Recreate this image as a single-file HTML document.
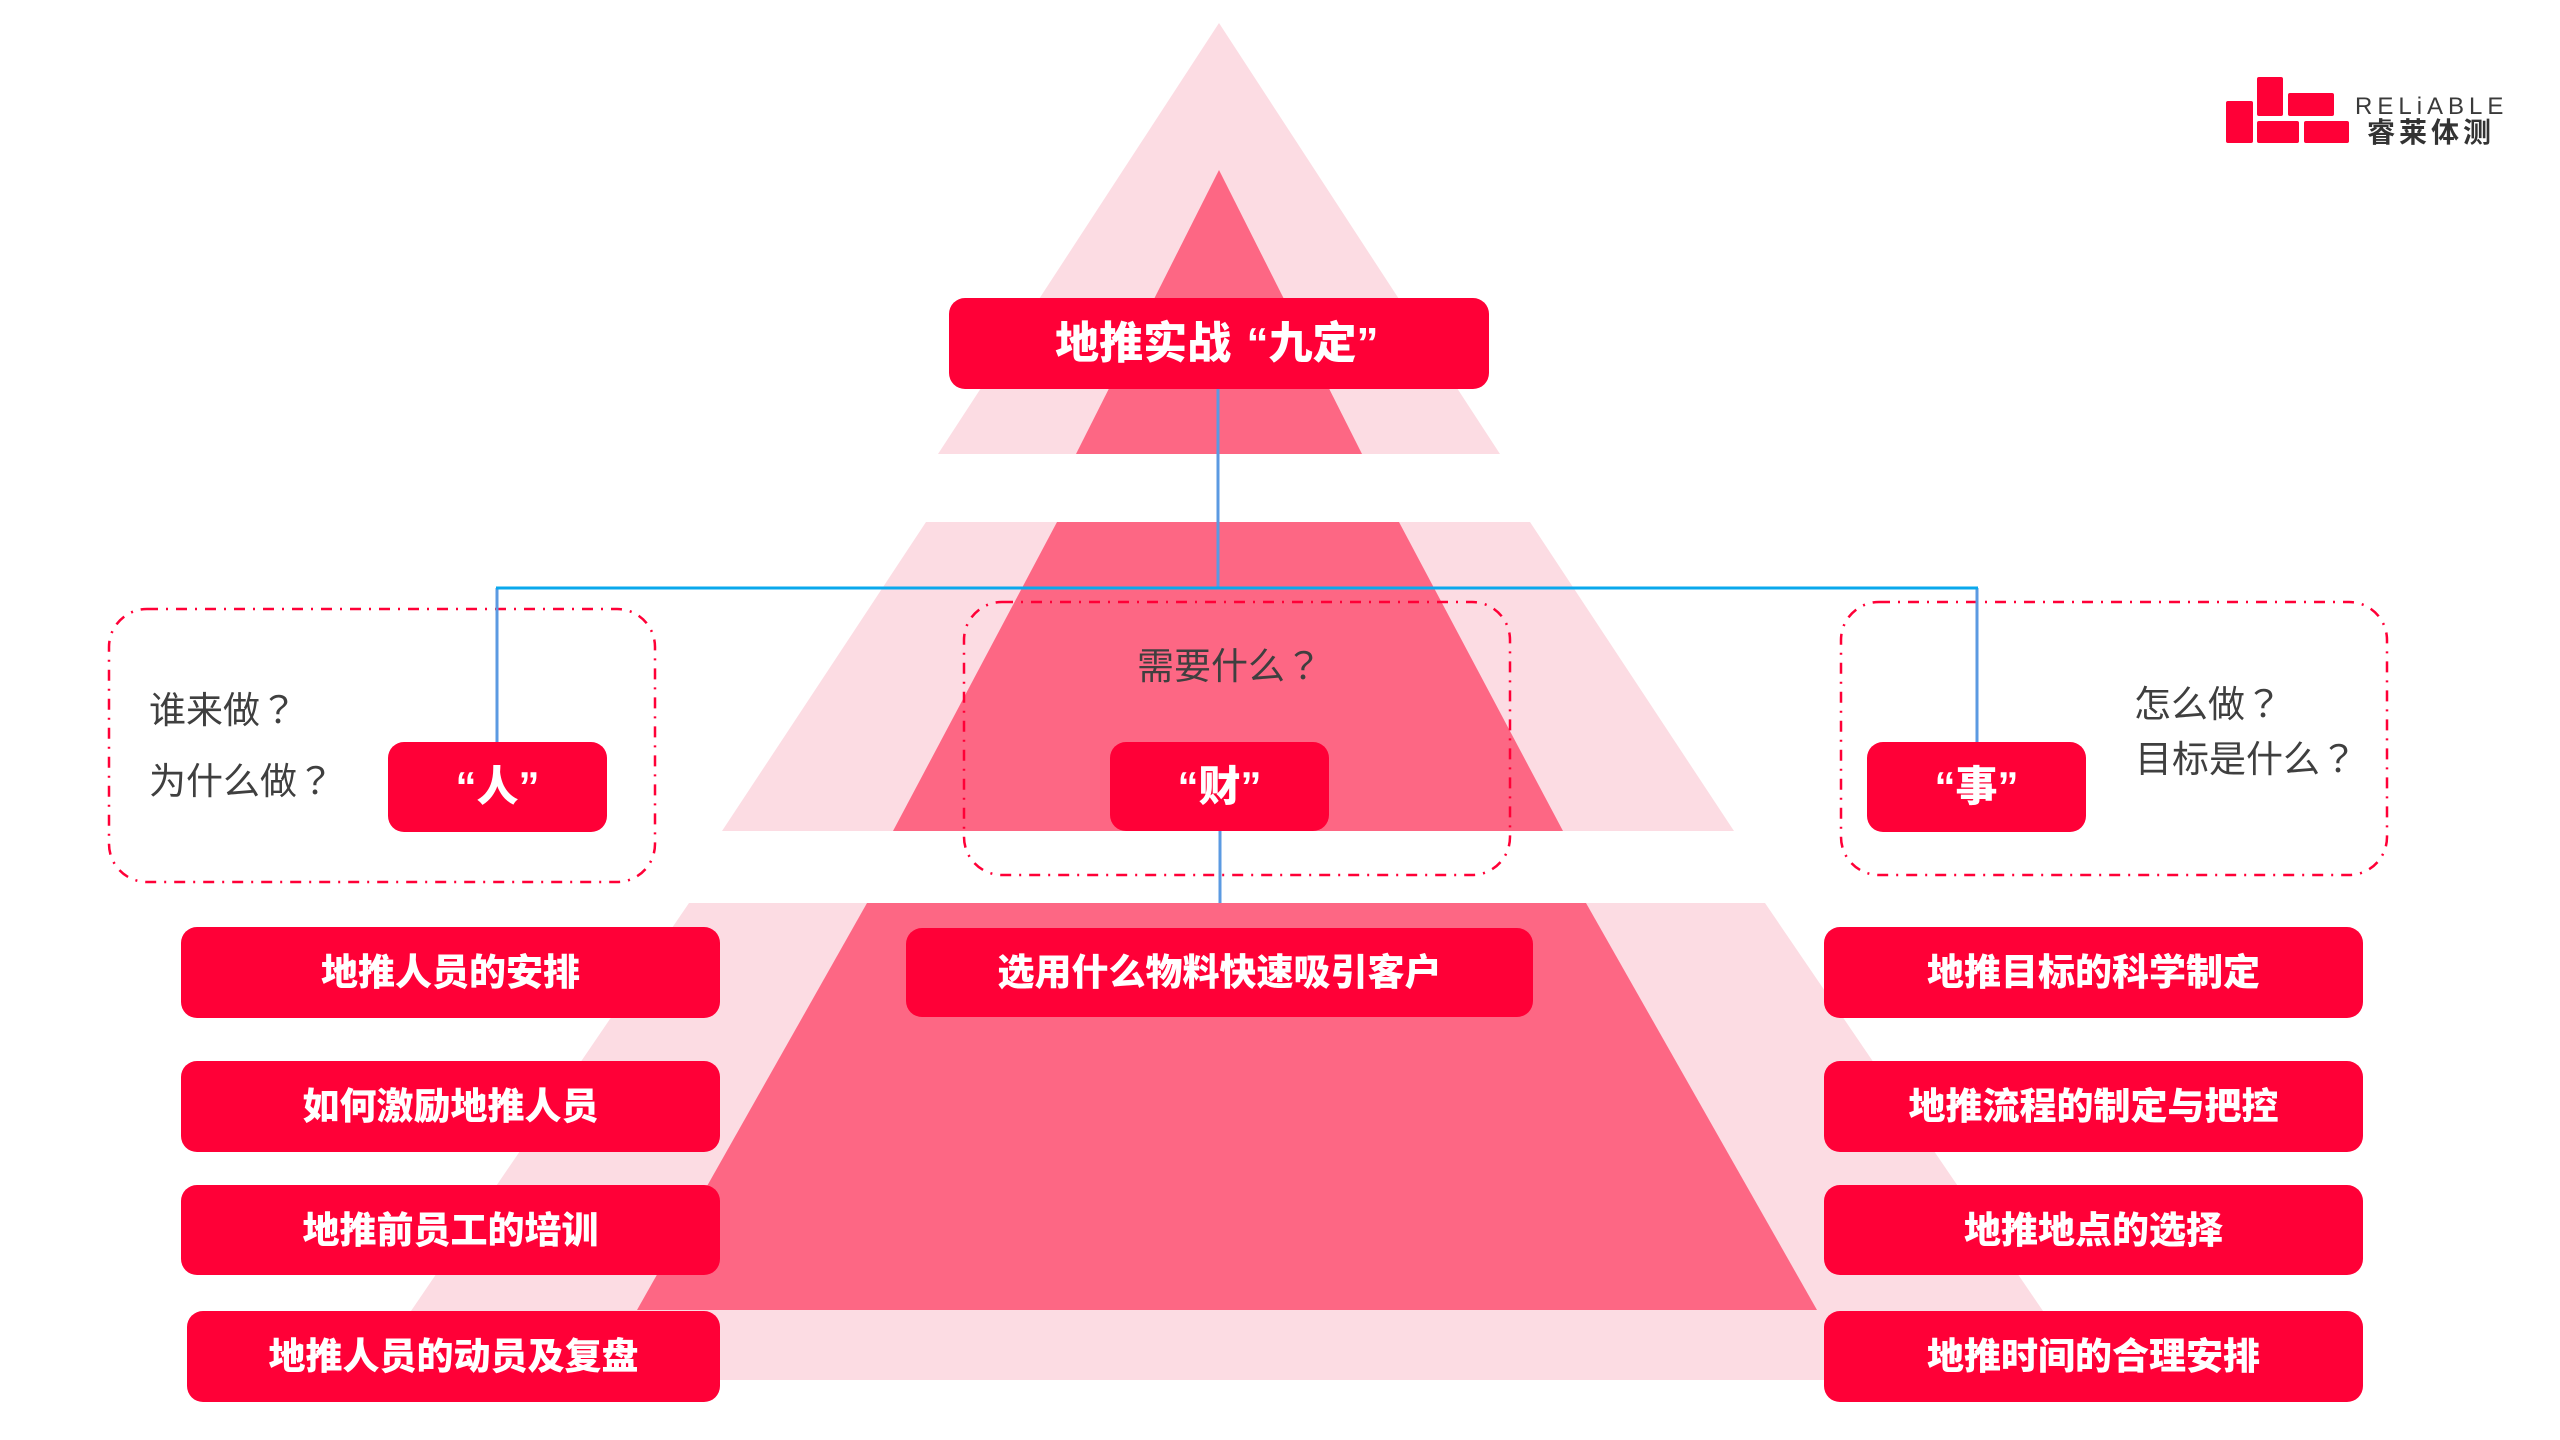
<!DOCTYPE html>
<html>
<head>
<meta charset="utf-8">
<style>
  html, body { margin:0; padding:0; }
  body { width:2560px; height:1440px; position:relative; overflow:hidden; background:#ffffff;
         font-family:"Liberation Sans","Noto Sans CJK SC",sans-serif; }
  svg.bg { position:absolute; left:0; top:0; }
  .box { position:absolute; background:#ff0037; border-radius:16px; color:#fff;
         display:flex; align-items:center; justify-content:center;
         font-family:"Liberation Sans","Noto Sans CJK SC",sans-serif; font-weight:900;
         font-size:37px; line-height:1; white-space:nowrap; }
  .q { position:absolute; color:#3f3f3f; font-size:37px; line-height:1; white-space:nowrap;
       font-family:"Liberation Sans","Noto Sans CJK SC",sans-serif; font-weight:400; }
  .fw { font-family:"Liberation Sans","Noto Sans CJK TC",sans-serif; }
  .logo-t { position:absolute; color:#333; white-space:nowrap; line-height:1; }
</style>
</head>
<body>
<svg class="bg" width="2560" height="1440" viewBox="0 0 2560 1440" xmlns="http://www.w3.org/2000/svg">
  <!-- top triangle -->
  <polygon points="1219,23 938,454 1500,454" fill="#fcdce3"/>
  <polygon points="1219,170 1076,454 1362,454" fill="#fd6784"/>
  <!-- band 2 -->
  <polygon points="926,522 1530,522 1734,831 722,831" fill="#fcdce3"/>
  <polygon points="1057,522 1399,522 1563,831 893,831" fill="#fd6784"/>
  <!-- band 3 -->
  <polygon points="689,903 1765,903 2090,1380 364,1380" fill="#fcdce3"/>
  <polygon points="867,903 1586,903 1817,1310 637,1310" fill="#fd6784"/>

  <!-- dashed boxes -->
  <g fill="none" stroke="#ff0037" stroke-width="2.5" stroke-dasharray="11 8 2 8">
    <rect x="109" y="609" width="546" height="273" rx="38" ry="38"/>
    <rect x="964" y="602" width="546" height="273" rx="38" ry="38"/>
    <rect x="1841" y="602" width="546" height="273" rx="38" ry="38"/>
  </g>

  <!-- connectors -->
  <g stroke="#5b9ae2" stroke-width="3" fill="none">
    <line x1="1218" y1="389" x2="1218" y2="588"/>
    <line x1="497" y1="588" x2="497" y2="742"/>
    <line x1="1977" y1="588" x2="1977" y2="742"/>
    <line x1="1220" y1="831" x2="1220" y2="903"/>
  </g>
  <line x1="496" y1="588" x2="1978" y2="588" stroke="#0aa8ec" stroke-width="3"/>

  <!-- logo blocks -->
  <g fill="#ff0037">
    <rect x="2226" y="101" width="27" height="42" rx="2"/>
    <rect x="2257" y="77" width="26" height="39" rx="2"/>
    <rect x="2257" y="121" width="42" height="22" rx="2"/>
    <rect x="2288" y="93" width="46" height="23" rx="2"/>
    <rect x="2304" y="121" width="45" height="22" rx="2"/>
  </g>
</svg>

<!-- logo text -->
<div class="logo-t" style="left:2355px; top:95px; font-family:'Liberation Sans',sans-serif; font-size:24px; letter-spacing:5px; color:#3a3a3a;">RELiABLE</div>
<div class="logo-t" style="left:2367px; top:119px; font-family:'Liberation Sans','Noto Sans CJK SC',sans-serif; font-size:28px; font-weight:700; letter-spacing:4px;">睿莱体测</div>

<!-- title -->
<div class="box" style="left:949px; top:298px; width:540px; height:91px; font-size:44px;">地推实战<span style="margin-left:0.35em">“</span>九定<span style="margin-right:0.1em">”</span></div>

<!-- three category boxes -->
<div class="box" style="left:388px; top:742px; width:219px; height:90px; font-size:42px;">“人”</div>
<div class="box" style="left:1110px; top:742px; width:219px; height:89px; font-size:42px;">“财”</div>
<div class="box" style="left:1867px; top:742px; width:219px; height:90px; font-size:42px;">“事”</div>

<!-- questions -->
<div class="q" style="left:149px; top:692px;">谁来做<span class="fw">？</span></div>
<div class="q" style="left:149px; top:763px;">为什么做<span class="fw">？</span></div>
<div class="q" style="left:1137px; top:648px;">需要什么<span class="fw">？</span></div>
<div class="q" style="left:2134px; top:686px;">怎么做<span class="fw">？</span></div>
<div class="q" style="left:2135px; top:741px;">目标是什么<span class="fw">？</span></div>

<!-- left items -->
<div class="box" style="left:181px; top:927px; width:539px; height:91px;">地推人员的安排</div>
<div class="box" style="left:181px; top:1061px; width:539px; height:91px;">如何激励地推人员</div>
<div class="box" style="left:181px; top:1185px; width:539px; height:90px;">地推前员工的培训</div>
<div class="box" style="left:187px; top:1311px; width:533px; height:91px;">地推人员的动员及复盘</div>

<!-- center item -->
<div class="box" style="left:906px; top:928px; width:627px; height:89px;">选用什么物料快速吸引客户</div>

<!-- right items -->
<div class="box" style="left:1824px; top:927px; width:539px; height:91px;">地推目标的科学制定</div>
<div class="box" style="left:1824px; top:1061px; width:539px; height:91px;">地推流程的制定与把控</div>
<div class="box" style="left:1824px; top:1185px; width:539px; height:90px;">地推地点的选择</div>
<div class="box" style="left:1824px; top:1311px; width:539px; height:91px;">地推时间的合理安排</div>
</body>
</html>
